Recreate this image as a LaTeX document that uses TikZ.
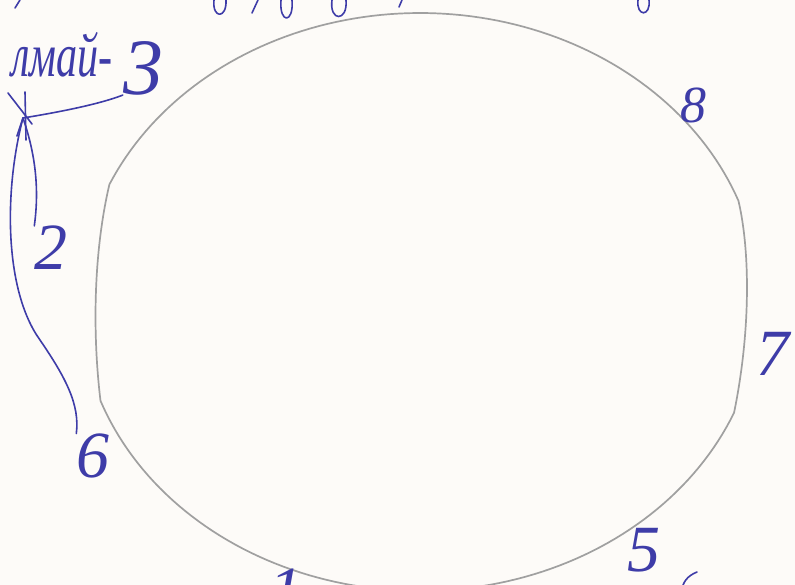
\documentclass[tikz,border=0pt]{standalone}
\usepackage{fontspec}
\setmainfont{Liberation Serif}
\usepackage{graphicx}
\definecolor{ink}{RGB}{62,60,168}
\definecolor{pencil}{RGB}{160,160,160}
\definecolor{paper}{RGB}{253,251,248}
\tikzset{
  inkline/.style={draw=ink, line width=1.6pt, line cap=round, line join=round},
  outline/.style={draw=pencil, line width=1.7pt, line cap=round, line join=round},
  digit/.style={text=ink, inner sep=0pt, font=\itshape\fontsize{66}{66}\selectfont},
}
\begin{document}
\begin{tikzpicture}[x=1pt,y=-1pt]
\useasboundingbox (0,0) rectangle (795,585);
\fill[paper] (0,0) rectangle (795,585);
\clip (0,0) rectangle (795,585);
% pencil outline
\draw[outline] plot[domain=204:339.5,samples=90] ({420+340*cos(\x)},{302+289*sin(\x)})
  .. controls (750,250) and (751,330) .. (734,413)
  -- plot[domain=22.5:160,samples=90] ({420+340*cos(\x)},{302+289*sin(\x)})
  .. controls (92,330) and (94,250) .. cycle;
% partial glyphs of the cut-off line above
\draw[inkline] (20,0) -- (15,8);
\draw[inkline] (214,0) .. controls (212,19) and (227,19) .. (226,0);
\draw[inkline] (258,0) -- (252,13);
\draw[inkline] (281,0) .. controls (279,24) and (294,24) .. (292,0);
\draw[inkline] (332,0) .. controls (329,22) and (348,22) .. (346,0);
\draw[inkline] (402,0) -- (399,7);
\draw[inkline] (638,0) .. controls (636,17) and (651,17) .. (649,0);
% partial glyph at bottom right
\draw[inkline] (697,572) .. controls (687,576) and (683,582) .. (681,592);
% labels
\node[text=ink, inner sep=0pt, anchor=base east, font=\itshape\fontsize{62}{62}\selectfont]
  (word) at (113,77) {\scalebox{0.68}[1]{лмай-}};
\node[digit, font=\itshape\fontsize{80}{80}\selectfont] (three) at (143,68) {3};
\node[digit, font=\itshape\fontsize{52}{52}\selectfont] (eight) at (693,105) {8};
\node[digit] (two) at (51,248) {2};
\node[digit] (six) at (93,456) {6};
\node[digit] (seven) at (773,354) {7};
\node[digit] (five) at (644,550) {5};
\node[digit, anchor=north] (one) at (286,569) {1};
% cross and connectors
\coordinate (cross) at (23,118);
\draw[inkline] (8,93) -- (32,124);
\draw[inkline] (25,92) -- (26,140);
\draw[inkline] (17,136) -- (cross);
\draw[inkline] (cross) .. controls (60,112) and (100,104) .. (three.south west);
\draw[inkline] (cross) .. controls (34,150) and (40,185) .. (two.north west);
\draw[inkline] (cross) .. controls (4,190) and (4,290) .. (40,340)
  .. controls (66,378) and (80,405) .. (six.north west);
\end{tikzpicture}
\end{document}
